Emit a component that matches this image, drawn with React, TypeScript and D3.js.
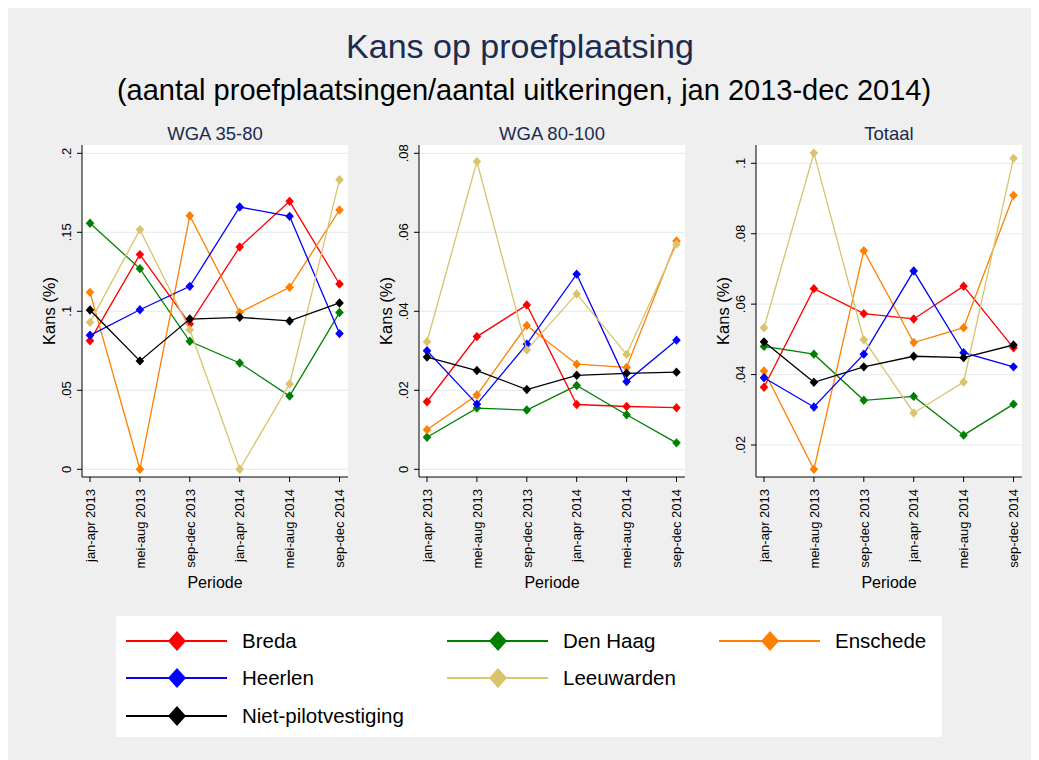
import React from "react";
import * as d3 from "d3";

// periods on the x axis
const periods = [
  "jan-apr 2013",
  "mei-aug 2013",
  "sep-dec 2013",
  "jan-apr 2014",
  "mei-aug 2014",
  "sep-dec 2014",
];

const seriesNames = ["Breda", "Den Haag", "Enschede", "Heerlen", "Leeuwarden", "Niet-pilotvestiging"];
const seriesColors = ["#ff0000", "#008000", "#ff7f00", "#0000ff", "#d9c36c", "#000000"];

// values per series, in the order of seriesNames
const wga3580 = [
  [0.0814, 0.1359, 0.092, 0.1407, 0.1696, 0.1173],
  [0.1557, 0.127, 0.081, 0.0673, 0.0464, 0.0992],
  [0.112, 0.0, 0.1605, 0.0992, 0.1152, 0.1641],
  [0.0848, 0.101, 0.1158, 0.166, 0.1601, 0.0859],
  [0.093, 0.1517, 0.0884, 0.0, 0.054, 0.1833],
  [0.1008, 0.0686, 0.0951, 0.0962, 0.0939, 0.1053],
];

const wga80100 = [
  [0.0171, 0.0336, 0.0416, 0.0164, 0.0159, 0.0156],
  [0.0081, 0.0155, 0.015, 0.0212, 0.0138, 0.0067],
  [0.01, 0.0188, 0.0364, 0.0266, 0.0258, 0.0578],
  [0.03, 0.0165, 0.0317, 0.0494, 0.0222, 0.0327],
  [0.0323, 0.0779, 0.0302, 0.0444, 0.0291, 0.057],
  [0.0284, 0.025, 0.0202, 0.0238, 0.0243, 0.0246],
];

const totaal = [
  [0.0364, 0.0644, 0.0573, 0.0558, 0.0651, 0.0476],
  [0.048, 0.0458, 0.0327, 0.0338, 0.0228, 0.0316],
  [0.041, 0.0131, 0.0752, 0.0491, 0.0533, 0.0909],
  [0.0391, 0.0308, 0.0458, 0.0694, 0.0462, 0.0422],
  [0.0533, 0.1029, 0.0499, 0.0291, 0.0379, 0.1014],
  [0.0493, 0.0378, 0.0422, 0.0452, 0.0448, 0.0484],
];

const ticks3580 = [0, 0.05, 0.1, 0.15, 0.2];
const tickLabels3580 = ["0", ".05", ".1", ".15", ".2"];
const ticks80100 = [0, 0.02, 0.04, 0.06, 0.08];
const tickLabels80100 = ["0", ".02", ".04", ".06", ".08"];
const ticksTotaal = [0.02, 0.04, 0.06, 0.08, 0.1];
const tickLabelsTotaal = [".02", ".04", ".06", ".08", ".1"];

const FONT = "'Liberation Sans', Arial, Helvetica, sans-serif";
const NAVY = "#1c2b50";

const panels = [
  { title: "WGA 35-80", data: wga3580, ticks: ticks3580, labels: tickLabels3580, left: 82, yFirst: 469.3, yLast: 153.3 },
  { title: "WGA 80-100", data: wga80100, ticks: ticks80100, labels: tickLabels80100, left: 419, yFirst: 469.3, yLast: 153.3 },
  { title: "Totaal", data: totaal, ticks: ticksTotaal, labels: tickLabelsTotaal, left: 756, yFirst: 445, yLast: 163.3 },
];

const plotTop = 145;
const plotBottom = 477;
const plotW = 266;

const diamond = (w: number, h: number) => `M0,${-h}L${w},0L0,${h}L${-w},0Z`;

const Panel = ({ p }: { p: (typeof panels)[number] }) => {
  const x = d3
    .scalePoint<string>()
    .domain(periods)
    .range([p.left + 8, p.left + plotW - 8.5]);
  const y = d3
    .scaleLinear()
    .domain([p.ticks[0], p.ticks[p.ticks.length - 1]])
    .range([p.yFirst, p.yLast]);
  const line = d3
    .line<number>()
    .x((_, i) => x(periods[i])!)
    .y((d) => y(d));
  const cx = p.left + plotW / 2;

  return (
    <g>
      <text x={cx} y={140} textAnchor="middle" fontSize={18.5} fill={NAVY}>
        {p.title}
      </text>
      <rect x={p.left} y={plotTop} width={plotW} height={plotBottom - plotTop} fill="#ffffff" />
      {/* gridlines */}
      {p.ticks.map((t) => (
        <line key={t} x1={p.left} x2={p.left + plotW} y1={y(t)} y2={y(t)} stroke="#e6eef0" strokeWidth={1.2} />
      ))}
      {/* series */}
      {p.data.map((vals, si) => (
        <g key={si}>
          <path d={line(vals) ?? ""} fill="none" stroke={seriesColors[si]} strokeWidth={1.3} />
          {vals.map((v, i) => (
            <path
              key={i}
              d={diamond(4.3, 4.7)}
              transform={`translate(${x(periods[i])},${y(v)})`}
              fill={seriesColors[si]}
            />
          ))}
        </g>
      ))}
      {/* y axis */}
      <line x1={p.left} x2={p.left} y1={plotTop} y2={plotBottom} stroke="#000" strokeWidth={1} />
      {p.ticks.map((t, i) => (
        <g key={t}>
          <line x1={p.left - 5} x2={p.left} y1={y(t)} y2={y(t)} stroke="#000" strokeWidth={1} />
          <text
            transform={`translate(${p.left - 11.5},${y(t)}) rotate(-90)`}
            textAnchor="middle"
            fontSize={13}
            fill="#000"
          >
            {p.labels[i]}
          </text>
        </g>
      ))}
      <text
        transform={`translate(${p.left - 27},${(plotTop + plotBottom) / 2}) rotate(-90)`}
        textAnchor="middle"
        fontSize={16.5}
        fill="#000"
      >
        Kans (%)
      </text>
      {/* x axis */}
      <line x1={p.left} x2={p.left + plotW} y1={plotBottom} y2={plotBottom} stroke="#000" strokeWidth={1} />
      {periods.map((per) => (
        <g key={per}>
          <line x1={x(per)} x2={x(per)} y1={plotBottom} y2={plotBottom + 5} stroke="#000" strokeWidth={1} />
          <text
            transform={`translate(${x(per)! + 4.7},${489}) rotate(-90)`}
            textAnchor="end"
            fontSize={13}
            fill="#000"
          >
            {per}
          </text>
        </g>
      ))}
      <text x={cx} y={588} textAnchor="middle" fontSize={16} fill="#000">
        Periode
      </text>
    </g>
  );
};

// legend slots (column, row) per series
const legendCols = [126, 447, 719];
const legendRows = [641, 678, 716];
const legendSlots = [
  [0, 0],
  [1, 0],
  [2, 0],
  [0, 1],
  [1, 1],
  [0, 2],
];

const App = () => {
  return (
    <svg width={1031} height={752} viewBox="8 8 1031 752" style={{ display: "block", fontFamily: FONT }}>
      <rect x={8} y={8} width={1031} height={752} fill="#efefef" />
      <text x={520} y={58} textAnchor="middle" fontSize={34} fill={NAVY}>
        Kans op proefplaatsing
      </text>
      <text x={524} y={100} textAnchor="middle" fontSize={29} fill="#000">
        (aantal proefplaatsingen/aantal uitkeringen, jan 2013-dec 2014)
      </text>
      {panels.map((p) => (
        <Panel key={p.title} p={p} />
      ))}
      {/* legend */}
      <rect x={116} y={616} width={826} height={121} fill="#ffffff" />
      {seriesNames.map((name, i) => {
        const lx = legendCols[legendSlots[i][0]];
        const ly = legendRows[legendSlots[i][1]];
        return (
          <g key={name}>
            <line x1={lx} x2={lx + 101} y1={ly} y2={ly} stroke={seriesColors[i]} strokeWidth={2} />
            <path d={diamond(9, 10)} transform={`translate(${lx + 51},${ly})`} fill={seriesColors[i]} />
            <text x={lx + 116} y={ly + 7} fontSize={20.5} fill="#000">
              {name}
            </text>
          </g>
        );
      })}
    </svg>
  );
};

export default App;
